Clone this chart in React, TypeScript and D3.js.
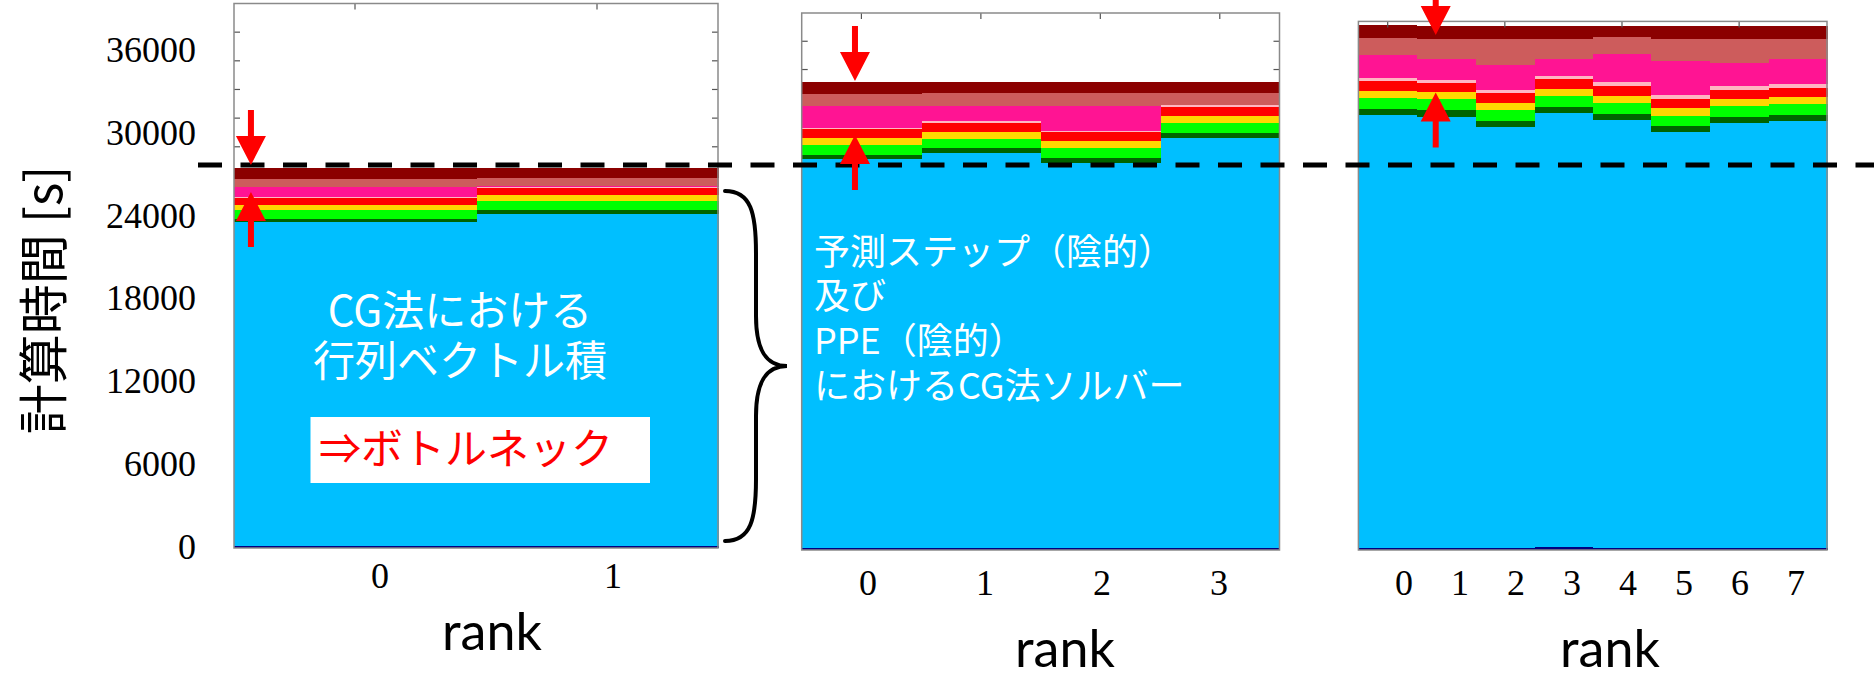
import React from "react";
import * as d3 from "d3";

// ---- data -------------------------------------------------------------
const RANKS_2 = ["0", "1"];
const RANKS_4 = ["0", "1", "2", "3"];
const RANKS_8 = ["0", "1", "2", "3", "4", "5", "6", "7"];

const LAYER_KEYS = ["navy", "sky", "darkgreen", "lime", "gold", "red", "pink", "deeppink", "indianred", "darkred"];
const LAYER_COLORS = ["#000080", "#00BFFF", "#006400", "#00FF00", "#FFD700", "#FF0000", "#FFB6C1", "#FF1493", "#CD5C5C", "#8B0000"];

// time per component [s], one sub-array per run (2, 4, 8 ranks)
const NAVY = [[150, 150], [150, 150, 150, 150], [150, 150, 150, 250, 150, 150, 150, 150]];
const SKY = [[22580, 23160], [27496, 27921, 27255, 28982], [31122, 31000, 30281, 31188, 30784, 29900, 30569, 30713]];
const DARKGREEN = [[230, 279], [304, 375, 354, 396], [453, 482, 410, 388, 431, 410, 410, 410]];
const LIME = [[628, 628], [708, 658, 686, 708], [769, 769, 791, 812, 769, 762, 769, 791]];
const GOLD = [[349, 419], [474, 495, 495, 474], [525, 546, 525, 525, 525, 554, 503, 525]];
const RED = [[468, 509], [637, 637, 637, 658], [697, 647, 676, 697, 697, 669, 669, 647]];
const PINK = [[70, 70], [100, 100, 100, 100], [216, 194, 237, 216, 300, 244, 266, 266]];
const DEEPPINK = [[698, 20], [1557, 1097, 1755, 10], [1653, 1488, 1797, 1201, 2013, 2466, 1697, 1819]];
const INDIANRED = [[579, 586], [877, 877, 877, 832], [1244, 1481, 1891, 1481, 1179, 1603, 1725, 1438]];
const DARKRED = [[747, 678], [821, 821, 821, 821], [913, 935, 935, 935, 834, 935, 935, 935]];

const Y_MAX = 38000;
const Y_TICK_LABELS = [0, 6000, 12000, 18000, 24000, 30000, 36000];
const REFERENCE_LEVEL = 26730; // level of the dashed line, on the 2-rank axis

// annotation arrows: run index, position in rank units, value pointed at, direction
const ARROW_RUN = [0, 0, 1, 1, 2, 2];
const ARROW_RANK = [0.07, 0.07, 0.446, 0.446, 1.32, 1.32];
const ARROW_VALUE = [26730, 24845, 33186, 29365, 37023, 32883];
const ARROW_DIR = ["down", "up", "down", "up", "down", "up"];

const SERIES = [NAVY, SKY, DARKGREEN, LIME, GOLD, RED, PINK, DEEPPINK, INDIANRED, DARKRED];
const RUN_RANKS = [RANKS_2, RANKS_4, RANKS_8];

// ---- layout -----------------------------------------------------------
const W = 1874;
const H = 677;
const PANELS = [
  { x0: 234, x1: 718, top: 3.5, bottom: 548, labelSpan: [380, 613], labelBase: 588, titleX: 492, titleBase: 650, topTickEvery: 1 },
  { x0: 801.7, x1: 1279.5, top: 13, bottom: 550, labelSpan: [868, 1219], labelBase: 595, titleX: 1065, titleBase: 667, topTickEvery: 1 },
  { x0: 1358.4, x1: 1827, top: 21.4, bottom: 550, labelSpan: [1404, 1796], labelBase: 595, titleX: 1610, titleBase: 667, topTickEvery: 2 },
];

const SERIF = "'Liberation Serif', 'Times New Roman', serif";
const JP = "'Noto Sans CJK JP', 'Noto Sans', sans-serif";
const LATIN = "Lato, 'Noto Sans', sans-serif";
const FRAME = "#8a8a8a";

function panelScales(p: number) {
  const L = PANELS[p];
  const ranks = RUN_RANKS[p];
  const x = d3.scaleBand<string>().domain(ranks).range([L.x0, L.x1]).paddingInner(0).paddingOuter(0);
  const xr = d3.scaleLinear().domain([0, ranks.length]).range([L.x0, L.x1]);
  const y = d3.scaleLinear().domain([0, Y_MAX]).range([L.bottom, L.top]);
  const xl = d3.scalePoint<string>().domain(ranks).range(L.labelSpan as [number, number]);
  return { x, xr, y, xl };
}

function bracePath(x: number, top: number, bottom: number, depth: number) {
  const mid = (top + bottom) / 2;
  const xs = x + depth * 0.5;
  const p = d3.path();
  p.moveTo(x, top);
  p.bezierCurveTo(x + depth * 0.42, top, xs, top + 22, xs, top + 62);
  p.lineTo(xs, mid - 50);
  p.bezierCurveTo(xs, mid - 14, xs + depth * 0.18, mid, x + depth, mid);
  p.bezierCurveTo(xs + depth * 0.18, mid, xs, mid + 14, xs, mid + 50);
  p.lineTo(xs, bottom - 62);
  p.bezierCurveTo(xs, bottom - 22, x + depth * 0.42, bottom, x, bottom);
  return p.toString();
}

function arrowPath(cx: number, tip: number, dir: string) {
  const head = 29;
  const shaft = 26;
  const hw = 15;
  const sw = 3;
  const s = dir === "down" ? -1 : 1;
  const base = tip + s * head;
  const end = base + s * shaft;
  const p = d3.path();
  p.moveTo(cx, tip);
  p.lineTo(cx + hw, base);
  p.lineTo(cx + sw, base);
  p.lineTo(cx + sw, end);
  p.lineTo(cx - sw, end);
  p.lineTo(cx - sw, base);
  p.lineTo(cx - hw, base);
  p.closePath();
  return p.toString();
}

function Panel({ p }: { p: number }) {
  const L = PANELS[p];
  const ranks = RUN_RANKS[p];
  const { x, y, xl } = panelScales(p);
  const rows = ranks.map((r, i) => {
    const row: Record<string, number | string> = { rank: r };
    LAYER_KEYS.forEach((k, j) => (row[k] = SERIES[j][p][i]));
    return row;
  });
  const stacked = d3.stack<Record<string, number | string>>().keys(LAYER_KEYS)(rows as any);
  const yTicks = d3.range(2000, Y_MAX, 2000);
  const topTicks = ranks.filter((_, i) => i % L.topTickEvery === 0);

  return (
    <g>
      {/* tick marks sit beneath the bars */}
      {yTicks.map((v) => (
        <g key={v} stroke="#555" strokeWidth={1.2}>
          <line x1={L.x0} x2={L.x0 + 6} y1={y(v)} y2={y(v)} />
          <line x1={L.x1 - 6} x2={L.x1} y1={y(v)} y2={y(v)} />
        </g>
      ))}
      {stacked.map((layer, j) => (
        <g key={layer.key} fill={LAYER_COLORS[j]}>
          {layer.map((d, i) => (
            <rect
              key={i}
              x={x(ranks[i])}
              width={x.bandwidth() + 0.5}
              y={y(d[1])}
              height={Math.max(0, y(d[0]) - y(d[1]))}
              shapeRendering="crispEdges"
            />
          ))}
        </g>
      ))}
      {topTicks.map((r) => (
        <line
          key={r}
          x1={(x(r) as number) + x.bandwidth() / 2}
          x2={(x(r) as number) + x.bandwidth() / 2}
          y1={L.top}
          y2={L.top + 6}
          stroke="#555"
          strokeWidth={1.2}
        />
      ))}
      <rect x={L.x0} y={L.top} width={L.x1 - L.x0} height={L.bottom - L.top} fill="none" stroke={FRAME} strokeWidth={1.5} />
      {ranks.map((r) => (
        <text key={r} x={xl(r)} y={L.labelBase} textAnchor="middle" fontFamily={SERIF} fontSize={36} fill="#000">
          {r}
        </text>
      ))}
      <text x={L.titleX} y={L.titleBase} textAnchor="middle" fontFamily={LATIN} fontSize={52} fill="#000">
        rank
      </text>
    </g>
  );
}

export default function App() {
  const s0 = panelScales(0);
  // tick labels are set in their own column, spaced evenly between 0 and 36000
  const yLabel = d3.scaleLinear().domain([0, 36000]).range([546.5, 50]);
  const dashY = s0.y(REFERENCE_LEVEL);

  return (
    <svg width={W} height={H} viewBox={`0 0 ${W} ${H}`} style={{ position: "absolute", left: 0, top: 0, display: "block", background: "#fff" }}>
      <rect width={W} height={H} fill="#fff" />

      {/* y-axis title and tick labels */}
      <text
        transform="translate(40,300) rotate(-90)"
        textAnchor="middle"
        dominantBaseline="central"
        fontFamily={JP}
        fontSize={50}
        fill="#000"
      >
        計算時間 [s]
      </text>
      {Y_TICK_LABELS.map((v) => (
        <text key={v} x={196} y={yLabel(v) + 12} textAnchor="end" fontFamily={SERIF} fontSize={36} fill="#000">
          {v}
        </text>
      ))}

      {PANELS.map((_, p) => (
        <Panel key={p} p={p} />
      ))}

      {/* text inside the 2-rank panel */}
      <g fontFamily={JP} fontSize={42} fill="#fff" textAnchor="middle">
        <text x={460} y={326}>CG法における</text>
        <text x={460} y={376}>行列ベクトル積</text>
      </g>
      <rect x={310.5} y={417} width={339.5} height={66} fill="#fff" />
      <text x={319} y={464} fontFamily={JP} fontSize={42} fill="#FF0000">
        ⇒ボトルネック
      </text>

      {/* text inside the 4-rank panel */}
      <g fontFamily={JP} fontSize={36} fill="#fff">
        <text x={814} y={265}>予測ステップ（陰的）</text>
        <text x={814} y={309}>及び</text>
        <text x={814} y={354}>PPE（陰的）</text>
        <text x={814} y={399}>におけるCG法ソルバー</text>
      </g>

      {/* brace between the first two panels */}
      <path d={bracePath(725, 191, 541, 62)} fill="none" stroke="#000" strokeWidth={4} strokeLinecap="round" />

      {/* dashed reference level */}
      <line x1={198} x2={W} y1={dashY} y2={dashY} stroke="#000" strokeWidth={5} strokeDasharray="24 18.5" />

      {/* arrows */}
      {ARROW_RUN.map((run, i) => {
        const sc = panelScales(run);
        return <path key={i} d={arrowPath(sc.xr(ARROW_RANK[i]), sc.y(ARROW_VALUE[i]), ARROW_DIR[i])} fill="#FF0000" />;
      })}
    </svg>
  );
}
